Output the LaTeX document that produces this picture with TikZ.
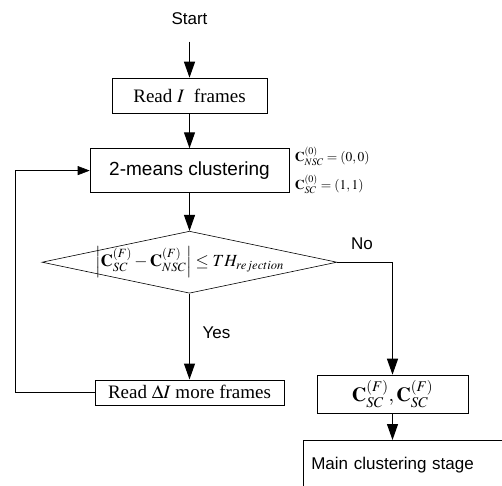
\documentclass[tikz,border=0pt]{standalone}
\usepackage{amsmath,amssymb}
\usepackage{mathptmx}
\usepackage{fontspec}
\setmainfont{Liberation Serif}
\setsansfont{Liberation Sans}
\usetikzlibrary{shapes.geometric,arrows.meta,positioning}

\begin{document}
\begin{tikzpicture}[x=1pt,y=1pt,>={Triangle[length=16pt,width=11pt]},
  box/.style={draw,rectangle,line width=0.6pt},
  sans/.style={font=\sffamily\fontsize{17}{20}\selectfont},
  serif/.style={font=\fontsize{19}{23}\selectfont},
  flow/.style={->,line width=1.1pt}]
\useasboundingbox (0,0) rectangle (502,485);
\node (read) [box,serif,minimum width=155pt,minimum height=35pt] at (189.5,389.5) {Read $I$\ \ frames};
\node (start) [sans,above=36pt of read,inner ysep=17pt] {Start};
\node (kmeans) [box,sans,font=\sffamily\fontsize{19}{22}\selectfont,below=35pt of read,minimum width=199pt,minimum height=44pt] {2-means clustering};
\node (init) [right=2pt of kmeans,align=left,font=\fontsize{13.5}{28}\selectfont] {$\mathbf{C}^{(0)}_{NSC}=(0,0)$\\$\mathbf{C}^{(0)}_{SC}=(1,1)$};
\node (test) [draw,diamond,line width=0.6pt,below=38pt of kmeans,minimum width=295pt,minimum height=62pt,inner sep=0pt,font=\fontsize{17}{20}\selectfont]
  {\makebox[0pt]{$\left|\mathbf{C}^{(F)}_{SC}-\mathbf{C}^{(F)}_{NSC}\right|\le TH_{rejection}$}};
\node (more) [box,serif,below=86pt of test,minimum width=189pt,minimum height=25pt,inner ysep=1pt] {Read $\Delta I$ more frames};
\node (out) [box,minimum width=151pt,minimum height=38pt,font=\fontsize{20}{24}\selectfont] at (392.5,91) {$\mathbf{C}^{(F)}_{SC},\mathbf{C}^{(F)}_{SC}$};
\node (main) [box,sans,anchor=north west,inner xsep=8pt,text width=190pt,minimum height=50pt,align=left] at (303,45) {Main clustering stage};
\node (no) [sans] at (362,241) {No};
\node (yes) [sans,anchor=west] at (199,152) {Yes};
\coordinate (back) at (15,170);
% main flow
\draw[flow] (start) -- (read);
\draw[flow] (read) -- (kmeans);
\draw[flow] (kmeans) -- (test);
\draw[flow] (test) -- (more);
\draw[flow] (test.east) -| (out.north);
\draw[flow] (out) -- (out.south |- main.north);
% loop back
\draw[->,line width=0.6pt,>={Triangle[length=12pt,width=9pt]}] (more.west) -- (more.west -| back) |- (kmeans.west);
\end{tikzpicture}
\end{document}
